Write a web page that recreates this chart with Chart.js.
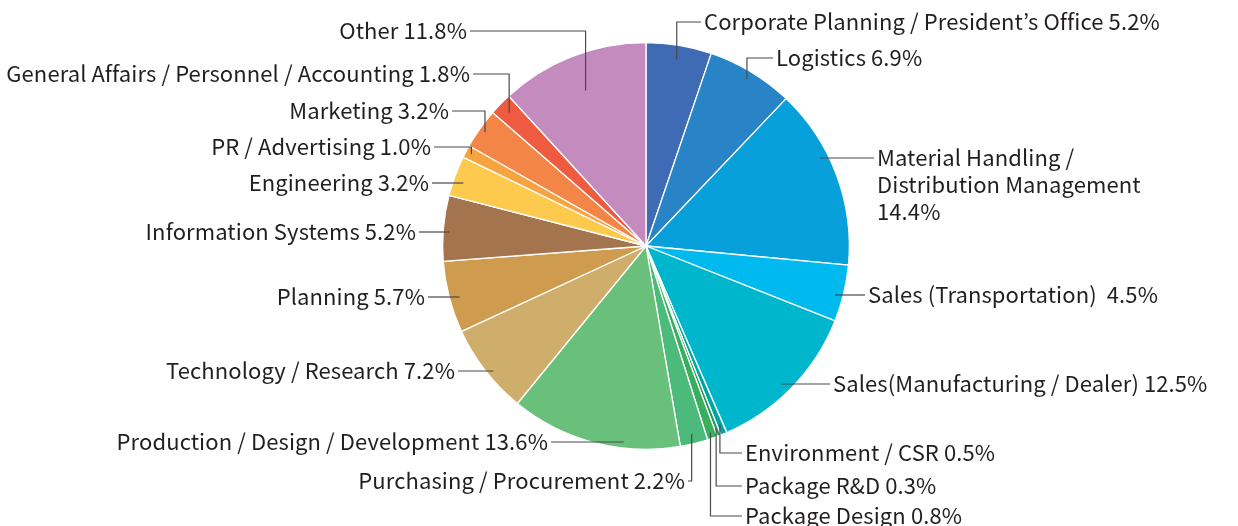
<!DOCTYPE html>
<html>
<head>
<meta charset="utf-8">
<title>Share by department</title>
<script src="https://cdn.jsdelivr.net/npm/chart.js@4.4.0/dist/chart.umd.min.js"></script>
<style>
  html, body { margin: 0; padding: 0; background: #fff; }
  #wrap { width: 1238px; height: 526px; }
</style>
</head>
<body>
<div id="wrap"><canvas id="pieChart" width="1238" height="526"></canvas></div>
<script>
"use strict";

/* ****************************************************************************
    DATA
**************************************************************************** */
// departments, clockwise from 12 o'clock
var departments = [
  "Corporate Planning / President\u2019s Office",
  "Logistics",
  "Material Handling /\nDistribution Management",
  "Sales (Transportation)",
  "Sales(Manufacturing / Dealer)",
  "Environment / CSR",
  "Package R&D",
  "Package Design",
  "Purchasing / Procurement",
  "Production / Design / Development",
  "Technology / Research",
  "Planning",
  "Information Systems",
  "Engineering",
  "PR / Advertising",
  "Marketing",
  "General Affairs / Personnel / Accounting",
  "Other"
];
// share of respondents, percent
var shares = [5.2, 6.9, 14.4, 4.5, 12.5, 0.5, 0.3, 0.8, 2.2, 13.6, 7.2, 5.7, 5.2, 3.2, 1.0, 3.2, 1.8, 11.8];
var sliceColors = [
  "#3f6bb5", "#2884c7", "#08a0db", "#00baef", "#00b6cc", "#00a6a6",
  "#23995a", "#3aae5f", "#4cba7a", "#69c07b", "#cfae6b", "#cf9b4e",
  "#a4744e", "#fdca4d", "#f7a33f", "#f38646", "#ee5b40", "#c48bbe"
];

/* ****************************************************************************
    LABEL LAYOUT (side: 1 right / -1 left, y of label, x of text edge,
    leader kind: "v" = vertical then horizontal, "h" = horizontal only,
    f = fraction of radius where the leader starts, sep = text between name and value)
**************************************************************************** */
var labelSpots = [
  { side: 1, y: 22, x: 704, kind: "v", f: 0.93, sep: " " },
  { side: 1, y: 58, x: 776, kind: "v", f: 0.96, sep: " " },
  { side: 1, y: 158, x: 877, kind: "h", f: 0.96, sep: "\n" },
  { side: 1, y: 295, x: 868, kind: "h", f: 0.96, sep: "  " },
  { side: 1, y: 384, x: 833, kind: "h", f: 0.95, sep: " " },
  { side: 1, y: 453, x: 745, kind: "v", f: 0.95, sep: " " },
  { side: 1, y: 486, x: 745, kind: "v", f: 0.96, sep: " " },
  { side: 1, y: 516, x: 745, kind: "v", f: 0.97, sep: " " },
  { side: -1, y: 481, x: 685, kind: "v", f: 0.95, sep: " " },
  { side: -1, y: 442, x: 548, kind: "h", f: 0.97, sep: " " },
  { side: -1, y: 371, x: 455, kind: "h", f: 0.97, sep: " " },
  { side: -1, y: 297, x: 425, kind: "h", f: 0.95, sep: " " },
  { side: -1, y: 232, x: 416, kind: "h", f: 0.97, sep: " " },
  { side: -1, y: 183, x: 429, kind: "h", f: 0.95, sep: " " },
  { side: -1, y: 147, x: 431, kind: "v", f: 0.97, sep: " " },
  { side: -1, y: 111, x: 449, kind: "v", f: 0.97, sep: " " },
  { side: -1, y: 74, x: 470, kind: "v", f: 0.94, sep: " " },
  { side: -1, y: 31, x: 467, kind: "v", f: 0.82, sep: " " }
];
var labelFont = '22px "Noto Sans CJK JP", "Noto Sans", sans-serif';
var lineHeight = 27;

/* ****************************************************************************
    LEADER LABEL PLUGIN
**************************************************************************** */
var leaderLabels = {
  id: "leaderLabels",
  afterDatasetsDraw: function (chart) {
    var ctx = chart.ctx;
    var arcs = chart.getDatasetMeta(0).data;
    ctx.save();
    ctx.font = labelFont;
    ctx.letterSpacing = "0.1px";
    ctx.textBaseline = "middle";
    ctx.fillStyle = "#231f20";
    ctx.strokeStyle = "#4a4a4a";
    ctx.lineWidth = 1.2;
    for (let i = 0; i < arcs.length; i++) {
      let arc = arcs[i];
      let spot = labelSpots[i];
      let mid = (arc.startAngle + arc.endAngle) / 2;
      let rr = arc.outerRadius * spot.f;
      let edgeX = spot.x - spot.side * 3;
      ctx.beginPath();
      if (spot.kind === "v") {
        let ax = arc.x + Math.cos(mid) * rr;
        let ay = arc.y + Math.sin(mid) * rr;
        ctx.moveTo(ax, ay);
        ctx.lineTo(ax, spot.y);
        ctx.lineTo(edgeX, spot.y);
      } else {
        let dy = spot.y - arc.y;
        let dx = Math.sqrt(Math.max(rr * rr - dy * dy, 0));
        ctx.moveTo(arc.x + spot.side * dx, spot.y);
        ctx.lineTo(edgeX, spot.y);
      }
      ctx.stroke();
      // label text
      let text = departments[i] + spot.sep + shares[i].toFixed(1) + "%";
      let lines = text.split("\n");
      ctx.textAlign = spot.side > 0 ? "left" : "right";
      for (let j = 0; j < lines.length; j++) {
        ctx.fillText(lines[j], spot.x, spot.y + j * lineHeight);
      }
    }
    ctx.restore();
  }
};

/* ****************************************************************************
    CHART
**************************************************************************** */
function renderChart() {
  var canvasChart = document.getElementById("pieChart");
  var config = {
    type: "pie",
    data: {
      labels: departments,
      datasets: [
        {
          data: shares,
          backgroundColor: sliceColors,
          borderColor: "#ffffff",
          borderWidth: 1.3
        }
      ]
    },
    options: {
      responsive: false,
      animation: false,
      devicePixelRatio: 1,
      layout: { padding: { top: 42, bottom: 76, left: 300, right: 246 } },
      plugins: {
        legend: { display: false },
        tooltip: { enabled: false }
      }
    },
    plugins: [leaderLabels]
  };
  new Chart(canvasChart, config);
}

renderChart();
</script>
</body>
</html>
